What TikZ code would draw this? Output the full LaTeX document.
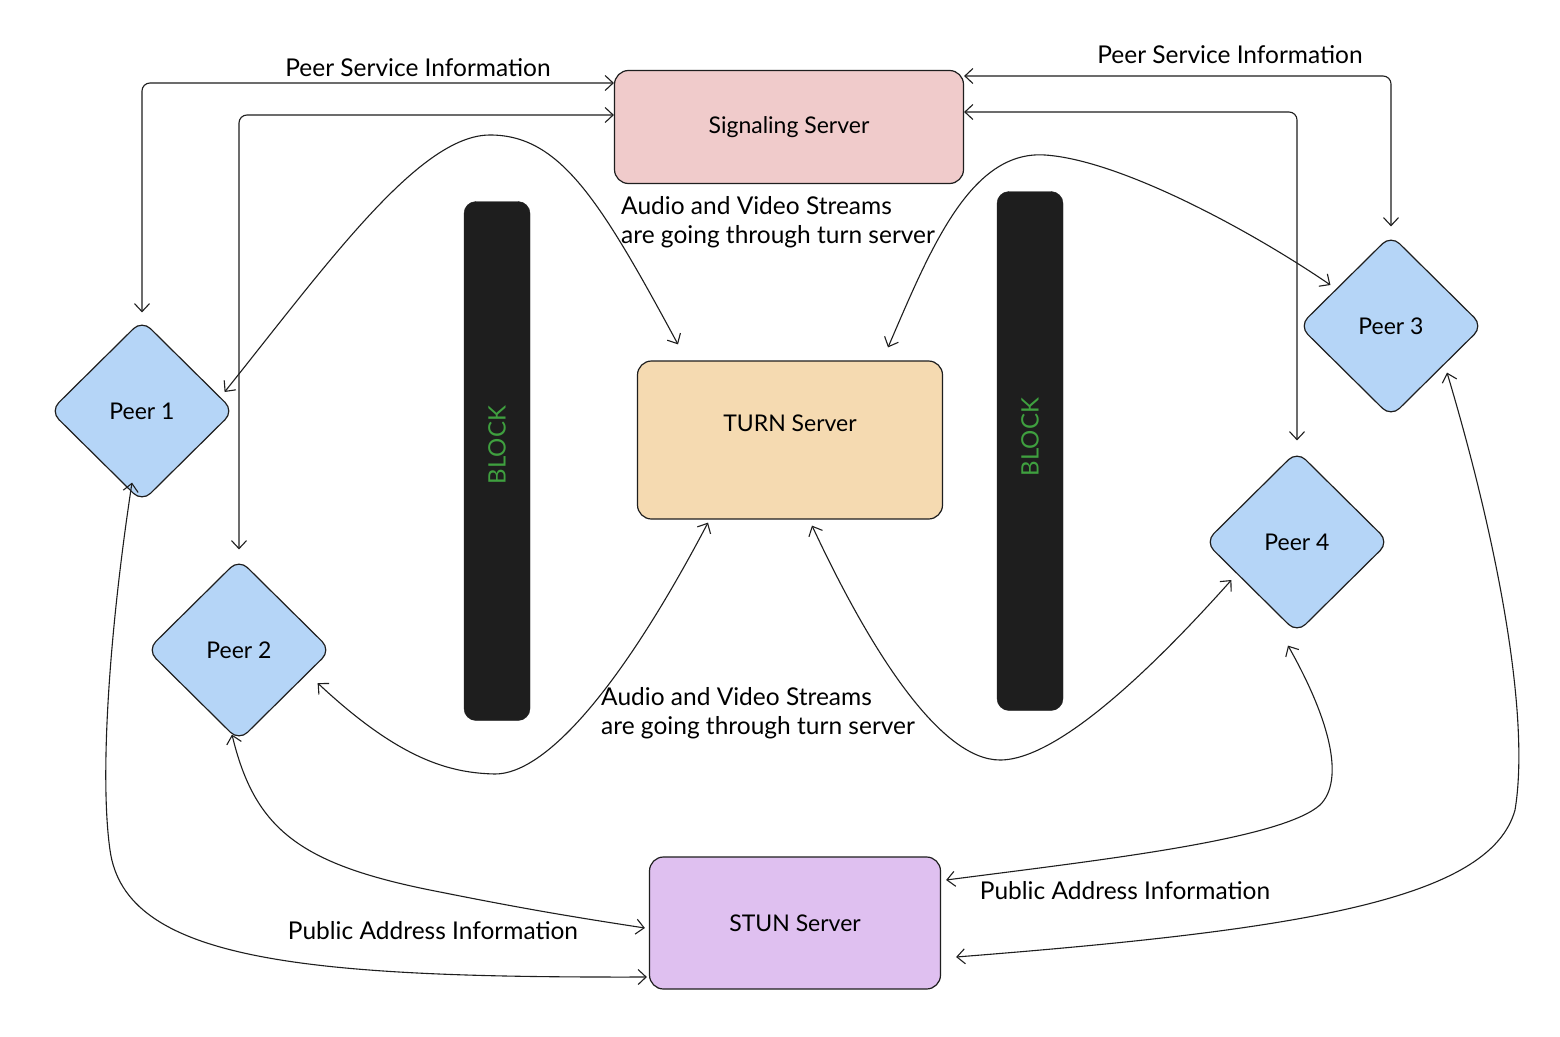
\documentclass[tikz,border=0pt]{standalone}
\usepackage{fontspec}
\setmainfont{Lato}
\usetikzlibrary{shapes.geometric,arrows.meta,calc}
\definecolor{sigfill}{HTML}{F0CBCB}
\definecolor{turnfill}{HTML}{F5DAB1}
\definecolor{stunfill}{HTML}{DFC0F0}
\definecolor{peerfill}{HTML}{B5D5F7}
\definecolor{blockfill}{HTML}{1E1E1E}
\definecolor{blocktext}{HTML}{3FA03F}
\definecolor{ink}{HTML}{1E1E1E}
\tikzset{
  server/.style={draw=ink, line width=1.2pt, rounded corners=14pt, inner sep=0pt,
    font=\fontsize{23}{27}\selectfont},
  peer/.style={diamond, aspect=1, draw=ink, line width=1.2pt, fill=peerfill,
    rounded corners=12pt, minimum width=184pt, minimum height=182pt, inner sep=0pt,
    font=\fontsize{23}{27}\selectfont},
  blockbar/.style={draw=ink, fill=blockfill, rounded corners=12pt, minimum width=66pt,
    minimum height=519pt, inner sep=0pt, text=blocktext, font=\fontsize{24}{28}\selectfont},
  arr/.style={draw=ink, line width=1.1pt, <->, >={Straight Barb[length=8pt,width=15pt]}},
  lbl/.style={font=\fontsize{24.5}{29}\selectfont, inner sep=0pt},
}
\begin{document}
\begin{tikzpicture}[x=1pt,y=-1pt]
\fill[white] (0,0) rectangle (1560,1036);
\useasboundingbox (0,0) rectangle (1560,1036);

% servers
\node[server, fill=sigfill, minimum width=349pt, minimum height=113pt] (sig) at (789,127) {Signaling Server};
\node[server, fill=turnfill, minimum width=305pt, minimum height=158pt,
      label={[server,draw=none,fill=none,yshift=17pt]center:TURN Server}] (turn) at (790,440) {};
\node[server, fill=stunfill, minimum width=291pt, minimum height=132pt] (stun) at (795,923) {STUN Server};

% blocks
\node[blockbar] (b1) at (497,461) {\rotatebox{90}{\hspace{32pt}BLOCK}};
\node[blockbar] (b2) at (1030,451) {\rotatebox{90}{\hspace{28pt}BLOCK}};

% peers
\node[peer] (p1) at (142,411) {Peer 1};
\node[peer] (p2) at (239,650) {Peer 2};
\node[peer] (p3) at (1391,326) {Peer 3};
\node[peer] (p4) at (1297,542) {Peer 4};

% signaling connectors
\draw[arr, rounded corners=8pt] (sig.west |- 0,83) -| ([yshift=7pt]p1.north);
\draw[arr, rounded corners=8pt] (sig.west |- 0,115) -| ([yshift=9pt]p2.north);
\draw[arr, rounded corners=8pt] (sig.east |- 0,76) -| ([yshift=8pt]p3.north);
\draw[arr, rounded corners=8pt] (sig.east |- 0,112) -| ([yshift=10pt]p4.north);

% media streams through TURN
\draw[arr] ([shift={(-10,-19)}]p1.east) .. controls (330,260) and (420,135) .. (490,135)
   .. controls (560,135) and (600,200) .. ([shift={(-112,-16)}]turn.north);
\draw[arr] ([shift={(98,-13)}]turn.north) .. controls (930,250) and (970,150) .. (1045,155)
   .. controls (1120,160) and (1250,230) .. ([shift={(32,-41)}]p3.west);
\draw[arr] ([shift={(-14,33)}]p2.east) .. controls (400,760) and (450,773) .. (495,774)
   .. controls (545,774) and (620,690) .. ([shift={(-82,3)}]turn.south);
\draw[arr] ([shift={(22,6)}]turn.south) .. controls (870,650) and (940,760) .. (1000,760)
   .. controls (1060,760) and (1160,660) .. ([shift={(27,38)}]p4.west);

% STUN connectors
\draw[arr] ([shift={(-10,-20)}]p1.south) .. controls (108,640) and (100,780) .. (110,850)
   .. controls (125,960) and (300,978) .. ([shift={(-2,54)}]stun.west);
\draw[arr] ([shift={(-7,-7)}]p2.south) .. controls (255,830) and (300,865) .. (440,892)
   .. controls (530,910) and (580,918) .. ([shift={(-4,5)}]stun.west);
\draw[arr] ([shift={(-9,12)}]p4.south) .. controls (1330,720) and (1345,780) .. (1320,805)
   .. controls (1280,840) and (1100,860) .. ([shift={(5,-43)}]stun.east);
\draw[arr] ([shift={(56,-45)}]p3.south) .. controls (1500,550) and (1530,720) .. (1515,810)
   .. controls (1490,900) and (1300,930) .. ([shift={(15,34)}]stun.east);

% labels
\node[lbl] (l1) at (418,68) {Peer Service Information};
\node[lbl] (l2) at (1230,55) {Peer Service Information};
\node[lbl, anchor=north west, align=left] (l3) at (621,196) {Audio and Video Streams\\are going through turn server};
\node[lbl, anchor=north west, align=left] (l4) at (601,687) {Audio and Video Streams\\are going through turn server};
\node[lbl] (l5) at (433,931) {Public Address Information};
\node[lbl] (l6) at (1125,891) {Public Address Information};
\end{tikzpicture}
\end{document}
